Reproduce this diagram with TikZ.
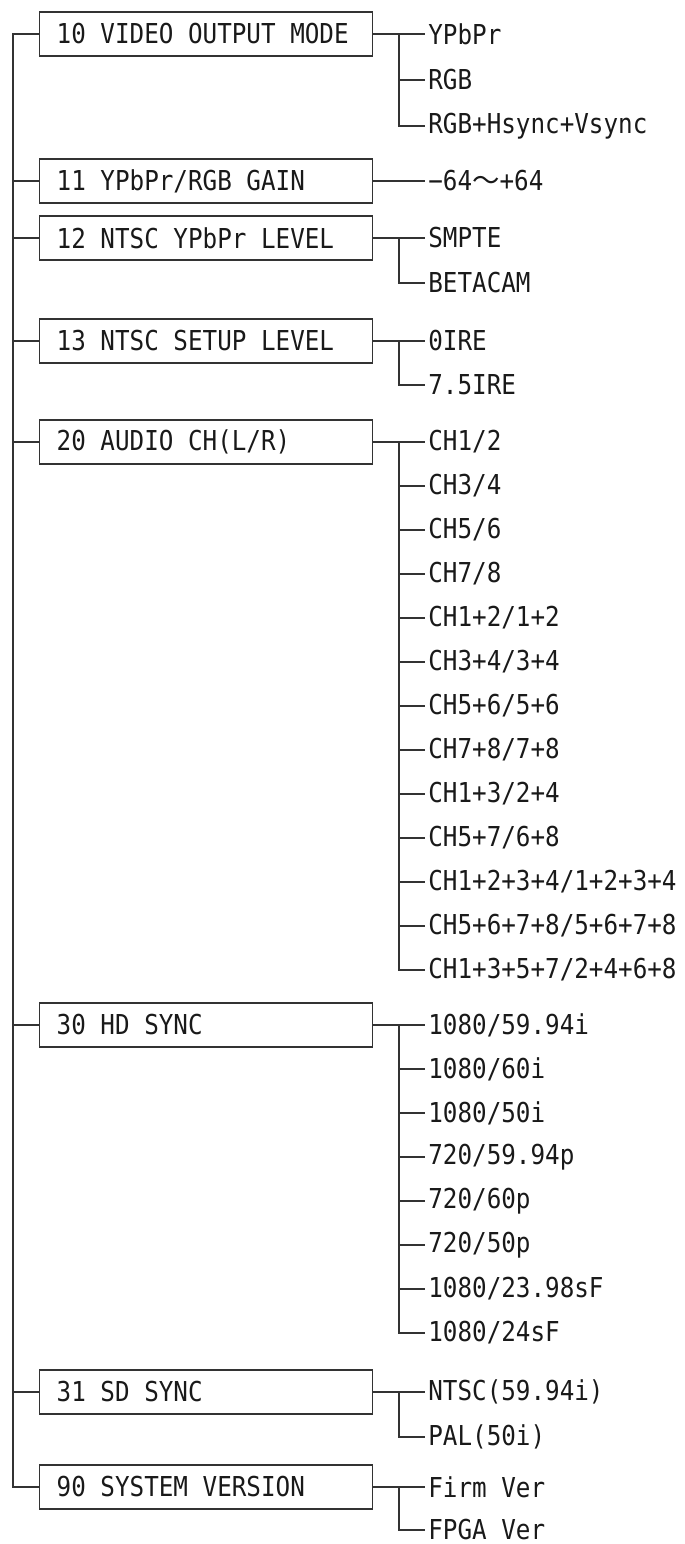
\documentclass[tikz,border=0pt]{standalone}
\usepackage{fontspec}
\newfontfamily\menufont[FakeStretch=0.885]{DejaVu Sans Mono}
\newfontfamily\jpfont{Noto Sans CJK JP}
\newcommand\menusize{\menufont\fontsize{15.6pt}{18pt}\selectfont}
\usetikzlibrary{positioning}

\begin{document}
\begin{tikzpicture}[x=0.02cm,y=-0.02cm,
 wire/.style={draw=black!80,line width=0.8pt},
 menu/.style={draw=black!80,line width=0.8pt,anchor=west,minimum height=0.88cm,
   text width=5.98cm,inner xsep=0.34cm,inner ysep=0pt,align=left,text=black!90,font=\menusize,
   execute at begin node={\spaceskip=8.3pt\relax}},
 opt/.style={anchor=west,inner xsep=0.06cm,inner ysep=0pt,text=black!90,font=\menusize}]
\useasboundingbox (0,0) rectangle (685,1544);
% menu boxes
\node[menu] (m10) at (39,34) {10 VIDEO OUTPUT MODE};
\node[menu] (m11) at (39,181) {11 YPbPr/RGB GAIN};
\node[menu] (m12) at (39,238) {12 NTSC YPbPr LEVEL};
\node[menu] (m13) at (39,341) {13 NTSC SETUP LEVEL};
\node[menu] (m20) at (39,442) {20 AUDIO CH(L/R)};
\node[menu] (m30) at (39,1025) {30 HD SYNC};
\node[menu] (m31) at (39,1392) {31 SD SYNC};
\node[menu] (m90) at (39,1487) {90 SYSTEM VERSION};
% settings
\foreach \t [count=\i] in {YPbPr,RGB,RGB+Hsync+Vsync}
  \node[opt] (m10-\i) at (425,{34+46*(\i-1)}) {\t};
\node[opt] (m11-1) at (425,181) {−64{\jpfont ～}+64};
\foreach \t [count=\i] in {SMPTE,BETACAM}
  \node[opt] (m12-\i) at (425,{238+45*(\i-1)}) {\t};
\foreach \t [count=\i] in {0IRE,7.5IRE}
  \node[opt] (m13-\i) at (425,{341+44*(\i-1)}) {\t};
\foreach \t [count=\i] in {CH1/2,CH3/4,CH5/6,CH7/8,CH1+2/1+2,CH3+4/3+4,CH5+6/5+6,
    CH7+8/7+8,CH1+3/2+4,CH5+7/6+8,CH1+2+3+4/1+2+3+4,CH5+6+7+8/5+6+7+8,CH1+3+5+7/2+4+6+8}
  \node[opt] (m20-\i) at (425,{442+44*(\i-1)}) {\t};
\foreach \t [count=\i] in {1080/59.94i,1080/60i,1080/50i,720/59.94p,720/60p,720/50p,
    1080/23.98sF,1080/24sF}
  \node[opt] (m30-\i) at (425,{1025+44*(\i-1)}) {\t};
\foreach \t [count=\i] in {NTSC(59.94i),PAL(50i)}
  \node[opt] (m31-\i) at (425,{1392+45*(\i-1)}) {\t};
\foreach \t [count=\i] in {Firm Ver,FPGA Ver}
  \node[opt] (m90-\i) at (425,{1487+43*(\i-1)}) {\t};
% trunks
\coordinate (t0) at (13,0);
\coordinate (s0) at (399,0);
\draw[wire] (m10.west) -| (t0 |- m90.west) -- (m90.west);
\foreach \m in {11,12,13,20,30,31}
  \draw[wire] (m\m.west) -- (t0 |- m\m.west);
\draw[wire] (m11.east) -- (m11-1.west);
\foreach \m/\n in {10/3,12/2,13/2,20/13,30/8,31/2,90/2}{
  \draw[wire] (m\m.east) -- (m\m-1.west);
  \draw[wire] (s0 |- m\m-1.west) |- (m\m-\n.west);
  \foreach \k in {2,...,\n}
    \draw[wire] (s0 |- m\m-\k.west) -- (m\m-\k.west);
}
\end{tikzpicture}
\end{document}
